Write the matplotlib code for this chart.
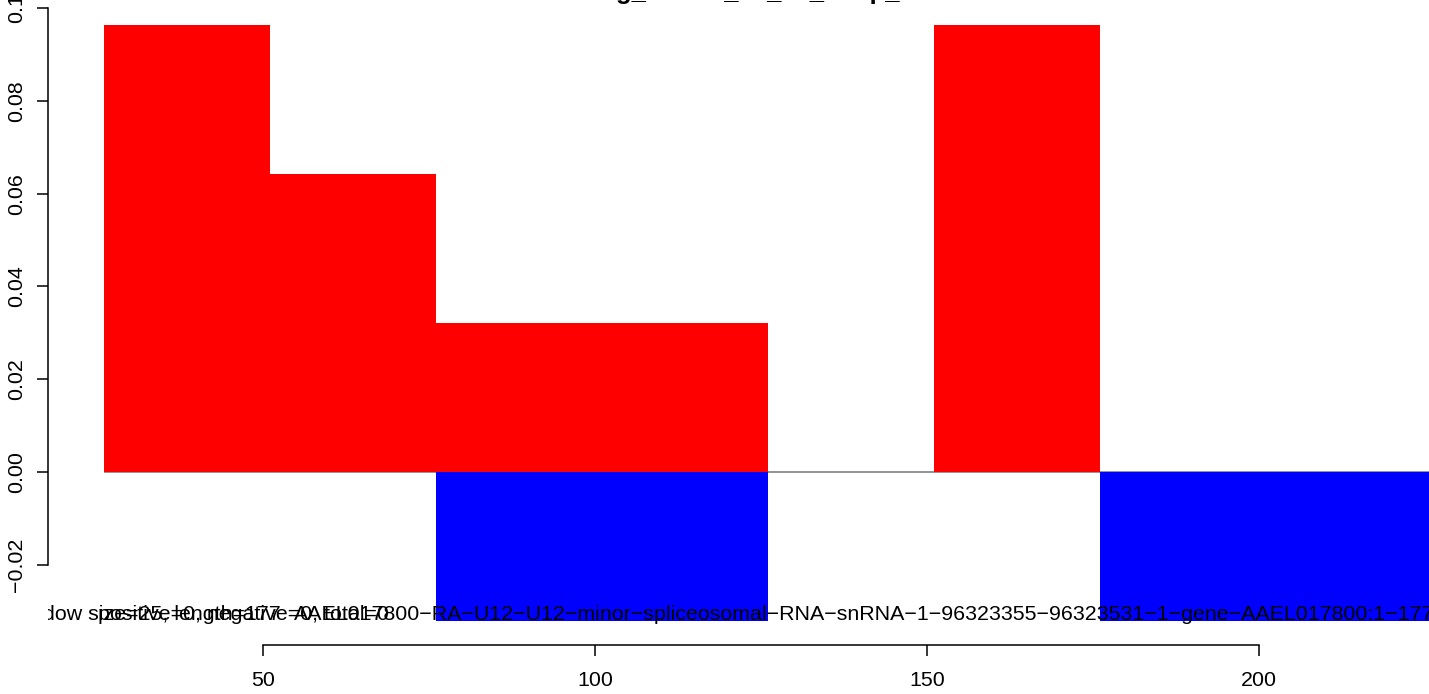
import matplotlib
matplotlib.use('Agg')
import matplotlib.pyplot as plt

# sliding window counts, window size 25 over a 177 long transcript
window_start = [26, 51, 76, 101, 126, 151, 176, 201]
window_size = 25
positive = [0.0964, 0.0643, 0.0321, 0.0321, 0.0, 0.0964, 0.0, 0.0]
negative = [0.0, 0.0, -0.0321, -0.0321, 0.0, 0.0, -0.0321, -0.0321]

x_ticks = [50, 100, 150, 200]
y_ticks = [-0.02, 0.0, 0.02, 0.04, 0.06, 0.08, 0.1]
y_ticklabels = ['\u22120.02', '0.00', '0.02', '0.04', '0.06', '0.08', '0.1']

title = 'sliding_strand_25_10_temp_all'
label_window = 'window size=25, length=177'
label_counts = 'positive=0, negative=0, total=0'
label_gene = ('AAEL017800-RA-U12-U12-minor-spliceosomal-RNA-snRNA-1-96323355-'
              '96323531-1-gene-AAEL017800:1-177').replace('-', '\u2212')

plt.rcParams['font.family'] = ['Liberation Sans', 'DejaVu Sans']
fs = 15.4

W, H = 1429, 694
fig = plt.figure(figsize=(W / 100, H / 100), dpi=100)
ax = fig.add_axes([48 / W, (H - 645) / H, (W - 48) / W, 645 / H])

ax.hlines(0, window_start[0], window_start[-1] + window_size, color='#808080', lw=1.2, zorder=1)
ax.bar(window_start, positive, width=window_size, align='edge', color='#FF0000', lw=0, zorder=2)
ax.bar(window_start, negative, width=window_size, align='edge', color='#0000FF', lw=0, zorder=3)

ax.set_xlim(17.62, 225.6)
ax.set_ylim(-0.03728, 0.10172)

for s in ['top', 'right']:
    ax.spines[s].set_visible(False)
ax.spines['left'].set_bounds(-0.02, 0.1)
ax.spines['bottom'].set_bounds(50, 200)
ax.spines['left'].set_linewidth(1.1)
ax.spines['bottom'].set_linewidth(1.1)

ax.set_xticks(x_ticks)
ax.set_xticklabels([str(v) for v in x_ticks])
ax.set_yticks(y_ticks)
ax.set_yticklabels(y_ticklabels, rotation=90, va='center')
ax.tick_params(axis='both', length=8, width=1.1, labelsize=fs)
ax.tick_params(axis='x', pad=11)
ax.tick_params(axis='y', pad=8)

# overlapping annotation strings, clipped to the plot region like in R
ax.text(12.0, -0.0319, label_window, fontsize=fs, ha='left', va='baseline', clip_on=True, zorder=4)
ax.text(25.2, -0.0319, label_counts, fontsize=fs, ha='left', va='baseline', clip_on=True, zorder=4)
ax.text(54.6, -0.0319, label_gene, fontsize=fs, ha='left', va='baseline', clip_on=True, zorder=4)

fig.text(738.5 / W, (H + 1) / H, title, fontsize=fs * 1.2, fontweight='bold', ha='center', va='baseline')

fig.savefig('out.png', dpi=100)
